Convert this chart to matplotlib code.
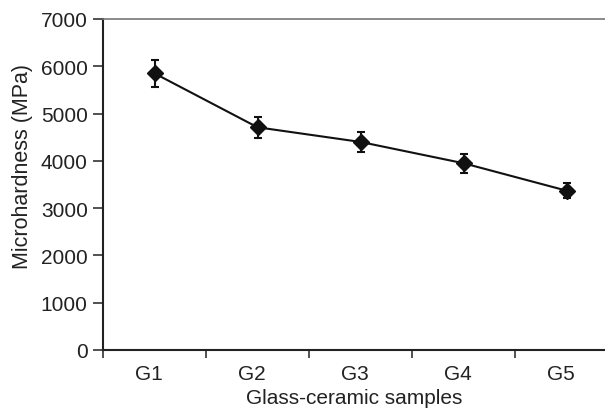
import matplotlib
matplotlib.use("Agg")
import matplotlib.pyplot as plt
import matplotlib.transforms as mtransforms
import numpy as np

samples = ["G1", "G2", "G3", "G4", "G5"]
hardness = [5850, 4710, 4400, 3950, 3370]
errors = [290, 225, 220, 200, 165]
yticks = [0, 1000, 2000, 3000, 4000, 5000, 6000, 7000]

plt.rcParams['font.family'] = ['Liberation Sans', 'DejaVu Sans']
txt = '#222222'

fig = plt.figure(figsize=(6.05, 4.10), dpi=100)
ax = fig.add_axes([103/605, 59/410, 502/605, 331/410])

x = np.arange(1, len(samples) + 1)
ax.errorbar(x, hardness, yerr=errors, color='#111111', lw=1.5, marker='D',
            ms=8, mfc='#111111', mec='#111111', ecolor='#111111',
            elinewidth=1.5, capsize=3, capthick=1.5)

ax.set_ylim(0, 7000)
ax.set_xlim(0.5, 0.5 + 502/103)
ax.set_yticks(yticks)
ax.set_yticklabels([str(v) for v in yticks], fontsize=15, color=txt)
ax.set_xticks(np.arange(0.5, len(samples), 1.0))
ax.set_xticklabels([])
ax.set_xticks(x, minor=True)
ax.set_xticklabels(samples, minor=True, fontsize=15, color=txt)
ax.tick_params(axis='x', which='minor', length=0, pad=10)
ax.tick_params(axis='x', which='major', direction='out', length=6, width=1.2, color='#333333')
ax.tick_params(axis='y', direction='out', length=7, width=1.2, color='#333333', pad=4)

offset = mtransforms.ScaledTranslation(-6/100, 0, fig.dpi_scale_trans)
for lab in ax.get_xticklabels(minor=True):
    lab.set_transform(lab.get_transform() + offset)

for s in ['left', 'bottom']:
    ax.spines[s].set_linewidth(1.5)
    ax.spines[s].set_color('#222222')
ax.spines['right'].set_visible(False)
ax.spines['top'].set_color('#777777')
ax.spines['top'].set_linewidth(1.2)

ax.set_xlabel("Glass-ceramic samples", fontsize=15, color=txt, labelpad=4)
ax.set_ylabel("Microhardness (MPa)", fontsize=15.5, color=txt)
ax.yaxis.set_label_coords(-0.14, 0.556)

fig.savefig("out.png", dpi=100)
